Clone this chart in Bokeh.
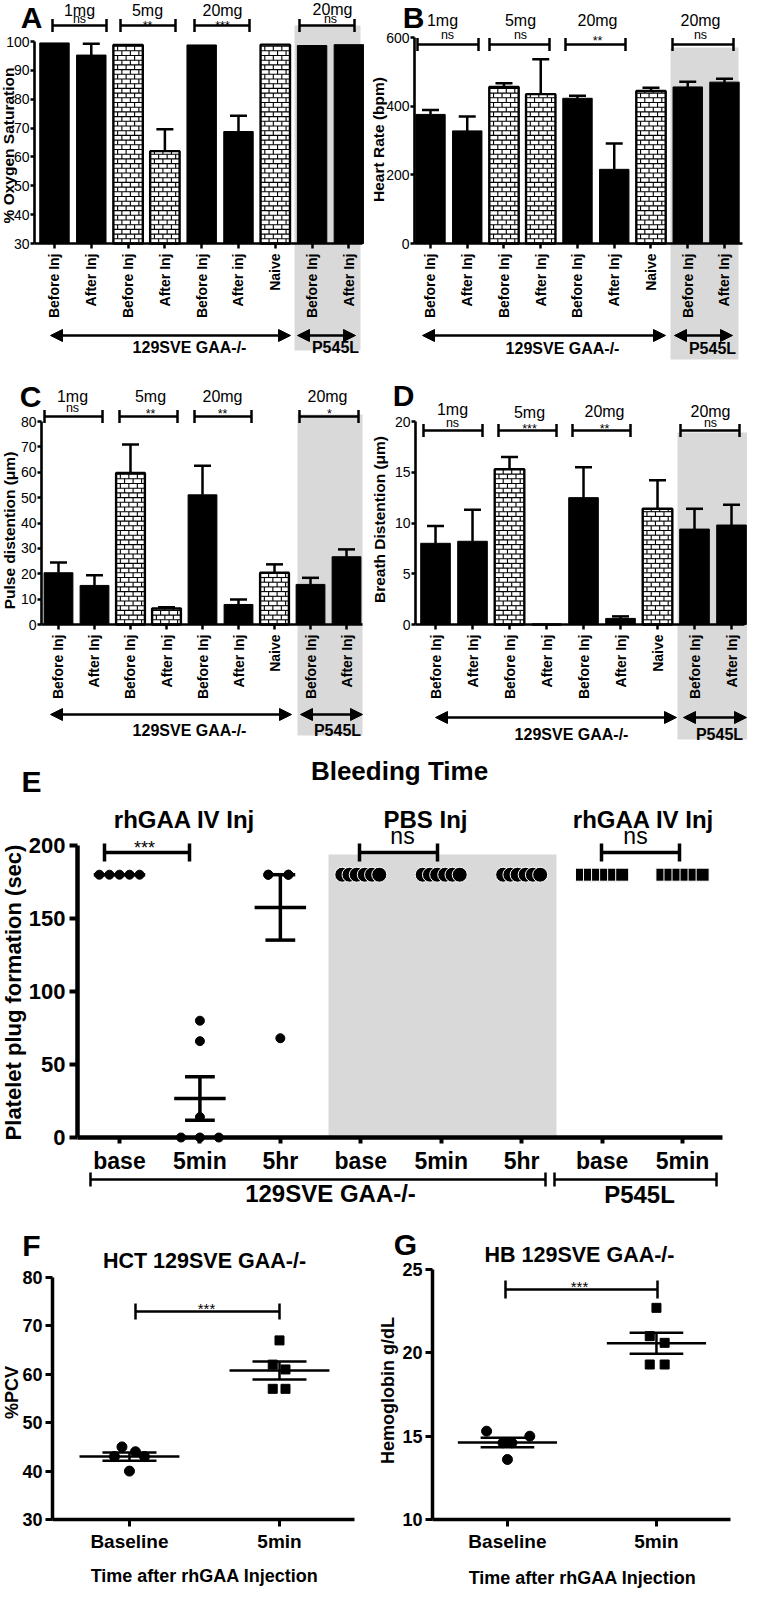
import math
import numpy as np
from bokeh.plotting import figure
from bokeh.models import (Range1d, FixedTicker, Label, Whisker, TeeHead, Arrow,
                          NormalHead, BoxAnnotation, ColumnDataSource)
from bokeh.layouts import column, row
from bokeh.embed import file_html
from bokeh.resources import INLINE

# ---------------- data ----------------
bar_labels_A = ["Before Inj", "After Inj", "Before Inj", "After Inj", "Before Inj",
                "After inj", "Naive", "Before Inj", "After Inj"]
bar_labels = ["Before Inj", "After Inj", "Before Inj", "After Inj", "Before Inj",
              "After Inj", "Naive", "Before Inj", "After Inj"]
bar_patterned = [False, False, True, True, False, False, True, False, False]
dose_labels = ["1mg", "5mg", "20mg", "20mg"]
group_labels = ["129SVE GAA-/-", "P545L"]

oxy_mean = [99.5, 95.3, 98.8, 62.0, 98.8, 68.8, 98.9, 98.6, 98.9]
oxy_sem = [0.0, 3.9, 0.0, 7.6, 0.0, 5.5, 0.0, 0.0, 0.0]
oxy_sig = ["ns", "**", "***", "ns"]
oxy_ticks = [30, 40, 50, 60, 70, 80, 90, 100]

hr_mean = [376, 328, 456, 435, 423, 216, 444, 456, 470]
hr_sem = [13, 42, 11, 102, 7, 75, 10, 15, 10]
hr_sig = ["ns", "ns", "**", "ns"]
hr_ticks = [0, 200, 400, 600]

pulse_mean = [20.4, 15.4, 59.7, 6.3, 51.1, 7.9, 20.4, 15.8, 26.7]
pulse_sem = [4.0, 4.0, 11.2, 0.5, 11.5, 2.0, 3.3, 2.6, 2.9]
pulse_sig = ["ns", "**", "**", "*"]
pulse_ticks = [0, 10, 20, 30, 40, 50, 60, 70, 80]

breath_mean = [8.0, 8.2, 15.3, 0.0, 12.5, 0.6, 11.4, 9.4, 9.8]
breath_sem = [1.7, 3.1, 1.2, 0.0, 3.0, 0.2, 2.8, 2.0, 2.0]
breath_sig = ["ns", "***", "**", "ns"]
breath_ticks = [0, 5, 10, 15, 20]

bt_labels = ["base", "5min", "5hr", "base", "5min", "5hr", "base", "5min"]
bt_values = [
    [180, 180, 180, 180, 180],
    [80, 66, 14, 0, 0, 0],
    [180, 180, 180, 180, 68],
    [180, 180, 180, 180, 180, 180],
    [180, 180, 180, 180, 180, 180],
    [180, 180, 180, 180, 180, 180],
    [180, 180, 180, 180, 180, 180],
    [180, 180, 180, 180, 180, 180],
]
bt_dx = [
    [-0.25, -0.125, 0.0, 0.125, 0.25],
    [0.0, 0.0, 0.0, -0.235, 0.0, 0.235],
    [-0.15, 0.1, -0.15, 0.1, 0.0],
    [-0.23, -0.14, -0.05, 0.05, 0.14, 0.23],
    [-0.23, -0.14, -0.05, 0.05, 0.14, 0.23],
    [-0.23, -0.14, -0.05, 0.05, 0.14, 0.23],
    [-0.25, -0.15, -0.05, 0.05, 0.15, 0.25],
    [-0.25, -0.15, -0.05, 0.05, 0.15, 0.25],
]
bt_ticks = [0, 50, 100, 150, 200]
bt_top_labels = ["rhGAA IV Inj", "PBS Inj", "rhGAA IV Inj"]
bt_sig = ["***", "ns", "ns"]

time_labels = ["Baseline", "5min"]
hct_base = [45, 44, 43, 43, 40]
hct_base_dx = [-0.05, 0.04, -0.1, 0.1, 0.0]
hct_5min = [67, 62, 61, 57, 57]
hct_5min_dx = [0.0, -0.045, 0.04, -0.045, 0.04]
hct_ticks = [30, 40, 50, 60, 70, 80]

hb_base = [15.3, 15.0, 14.6, 14.6, 13.6]
hb_base_dx = [-0.14, 0.15, -0.03, 0.03, 0.0]
hb_5min = [22.7, 21.0, 20.6, 19.3, 19.3]
hb_5min_dx = [0.0, -0.045, 0.055, -0.045, 0.055]
hb_ticks = [10, 15, 20, 25]

# ---------------- styling helpers ----------------
FONT = "Liberation Sans"
GREY = "#d9d9d9"
BW = 0.8


class Geo:
    """page-pixel geometry of one panel: figure box, axes box and axes data extents"""
    def __init__(self, fig, frame, xr, yr):
        self.gx0, self.gy0, self.gx1, self.gy1 = fig
        self.fx0, self.fy0, self.fx1, self.fy1 = frame
        self.xr, self.yr = xr, yr

    def X(self, px):
        return self.xr[0] + (px - self.fx0) / (self.fx1 - self.fx0) * (self.xr[1] - self.xr[0])

    def Y(self, py):
        return self.yr[0] + (self.fy1 - py) / (self.fy1 - self.fy0) * (self.yr[1] - self.yr[0])

    def ppx(self):
        return (self.fx1 - self.fx0) / (self.xr[1] - self.xr[0])

    def ppy(self):
        return (self.fy1 - self.fy0) / (self.yr[1] - self.yr[0])


def new_fig(g):
    # the plotting frame fills the whole figure; axes are pinned at data locations
    p = figure(width=g.gx1 - g.gx0, height=g.gy1 - g.gy0,
               x_range=Range1d(g.X(g.gx0), g.X(g.gx1)),
               y_range=Range1d(g.Y(g.gy1), g.Y(g.gy0)),
               output_backend="svg", toolbar_location=None, tools="",
               title_location=None, min_border=0,
               min_border_left=0, min_border_right=0,
               min_border_top=0, min_border_bottom=0)
    p.xgrid.visible = False
    p.ygrid.visible = False
    p.outline_line_color = None
    p.background_fill_color = "white"
    p.border_fill_color = "white"
    p.xaxis[0].fixed_location = g.yr[0]
    p.xaxis[0].bounds = tuple(g.xr)
    p.yaxis[0].fixed_location = g.xr[0]
    p.yaxis[0].bounds = tuple(g.yr)
    return p


def style_axis(ax, ticks, labels, size, bold, lw, tick_out, tick_w, standoff, orientation=None):
    ax.ticker = FixedTicker(ticks=ticks)
    if labels is not None:
        ax.major_label_overrides = {t: l for t, l in zip(ticks, labels)}
    ax.major_label_text_font = FONT
    ax.major_label_text_font_size = f"{size}px"
    ax.major_label_text_font_style = "bold" if bold else "normal"
    ax.major_label_text_color = "black"
    ax.axis_line_width = lw
    ax.axis_line_color = "black"
    ax.major_tick_line_width = tick_w
    ax.major_tick_line_color = "black"
    ax.major_tick_in = 0
    ax.major_tick_out = tick_out
    ax.minor_tick_line_color = None
    ax.major_label_standoff = standoff
    if orientation is not None:
        ax.major_label_orientation = orientation


def txt(p, g, s, px, py, size, bold=False, angle=0.0):
    p.add_layout(Label(x=g.X(px), y=g.Y(py), text=s, text_font=FONT,
                       text_font_size=f"{size}px",
                       text_font_style="bold" if bold else "normal",
                       text_color="black", text_align="center",
                       text_baseline="middle", angle=angle))


def sig_txt(p, g, s, px, py, size):
    # asterisks sit high in the em box: shift anchor so the glyphs centre on py
    off = 0.3 * size if "*" in s else 0.0
    txt(p, g, s, px, py + off, size)


def grey(p, g, px0, px1, pytop, pybot):
    p.add_layout(BoxAnnotation(left=g.X(px0), right=g.X(px1), top=g.Y(pytop),
                               bottom=g.Y(pybot), fill_color=GREY, fill_alpha=1.0,
                               line_color=None, level="underlay"))


def brackets(p, g, spans, py, cap, lw):
    src = ColumnDataSource(dict(base=[g.Y(py)] * len(spans),
                                lower=[g.X(a) for a, b in spans],
                                upper=[g.X(b) for a, b in spans]))
    p.add_layout(Whisker(source=src, base="base", lower="lower", upper="upper",
                         dimension="width", line_color="black", line_width=lw,
                         lower_head=TeeHead(size=cap, line_color="black", line_width=lw),
                         upper_head=TeeHead(size=cap, line_color="black", line_width=lw),
                         level="annotation"))


def arrow(p, g, px0, px1, py):
    p.add_layout(Arrow(x_start=g.X(px0), y_start=g.Y(py), x_end=g.X(px1), y_end=g.Y(py),
                       line_color="black", line_width=2.5,
                       start=NormalHead(size=12, fill_color="black", line_color="black"),
                       end=NormalHead(size=12, fill_color="black", line_color="black")))


def bricks(p, g, xs, tops, bottom, bw):
    rh = 4.7 / g.ppy()
    bwid = 8.5 / g.ppx()
    x0, y0, x1, y1 = [], [], [], []
    for x, t in zip(xs, tops):
        l, r = x - bw / 2, x + bw / 2
        y = bottom
        k = 0
        while y < t - 1e-9:
            yn = min(y + rh, t)
            x0.append(l); x1.append(r); y0.append(y); y1.append(y)
            xv = l + (bwid / 2 if k % 2 else bwid)
            while xv < r - 1e-9:
                x0.append(xv); x1.append(xv); y0.append(y); y1.append(yn)
                xv += bwid
            y = yn
            k += 1
    p.segment(x0=x0, y0=y0, x1=x1, y1=y1, line_color="black", line_width=1.1)


def bar_panel(g, labels, means, sems, yticks, sigs, spec):
    p = new_fig(g)
    grey(p, g, *spec["grey"])
    xs = list(range(1, len(means) + 1))
    y0 = g.yr[0]
    bx = [x for x, f in zip(xs, bar_patterned) if not f]
    bm = [m for m, f in zip(means, bar_patterned) if not f]
    hx = [x for x, f in zip(xs, bar_patterned) if f]
    hm = [m for m, f in zip(means, bar_patterned) if f]
    p.vbar(x=bx, top=bm, bottom=y0, width=BW, fill_color="black",
           line_color="black", line_width=1)
    p.vbar(x=hx, top=hm, bottom=y0, width=BW, fill_color="white", line_color=None)
    bricks(p, g, hx, hm, y0, BW)
    p.vbar(x=hx, top=hm, bottom=y0, width=BW, fill_color=None,
           line_color="black", line_width=2.4)
    ex = [x for x, s in zip(xs, sems) if s > 0]
    elo = [m for m, s in zip(means, sems) if s > 0]
    ehi = [m + s for m, s in zip(means, sems) if s > 0]
    src = ColumnDataSource(dict(x=ex, lo=elo, hi=ehi))
    p.add_layout(Whisker(source=src, base="x", lower="lo", upper="hi", dimension="height",
                         line_color="black", line_width=2.5, lower_head=None,
                         upper_head=TeeHead(size=17, line_color="black", line_width=2.5),
                         level="annotation"))
    style_axis(p.xaxis[0], xs, labels, 14, True, 2.6, 5, 2.5, 5, math.pi / 2)
    style_axis(p.yaxis[0], yticks, None, 14, False, 2.6, 4, 2.5, 1)

    brackets(p, g, spec["brackets"], spec["bracket_y"], 13, 2.5)
    for s, (px, py) in zip(dose_labels, spec["doses"]):
        txt(p, g, s, px, py, 16)
    for s, (px, py) in zip(sigs, spec["sigs"]):
        sig_txt(p, g, s, px, py, 12.5)
    for (a, b) in spec["arrows"]:
        arrow(p, g, a, b, spec["arrow_y"])
    for s, (px, py) in zip(group_labels, spec["groups"]):
        txt(p, g, s, px, py, 16, bold=True)
    letter, lx, ly = spec["letter"]
    txt(p, g, letter, lx, ly, 30, bold=True)
    title, tx, ty = spec["ytitle"]
    txt(p, g, title, tx, ty, 15.5, bold=True, angle=math.pi / 2)
    return p


# ---------------- panels A-D ----------------
gA = Geo((8, 8, 372, 372), (42, 49, 370, 251), (0.457, 9.37), (30, 100))
gB = Geo((372, 8, 755, 372), (422, 45, 750, 251), (0.565, 9.49), (0, 600))
gC = Geo((8, 372, 372, 752), (49, 429, 370, 632), (0.528, 9.444), (0, 80))
gD = Geo((372, 372, 755, 752), (423, 429, 752, 632), (0.459, 9.351), (0, 20))

specA = dict(letter=("A", 39, 25), ytitle=("% Oxygen Saturation", 16, 153),
             doses=[(87, 18), (155, 18), (230, 18), (340, 17)],
             sigs=[(87, 26.5), (155, 29.5), (230, 29.5), (338, 26.5)],
             brackets=[(60, 114), (128, 183), (202, 257), (307, 362)], bracket_y=33,
             arrows=[(58, 298), (305, 363)], arrow_y=343,
             groups=[(197, 355), (343, 355)], grey=(302, 368, 33, 358))
specB = dict(letter=("B", 421, 25), ytitle=("Heart Rate (bpm)", 386, 147),
             doses=[(450, 28), (528, 28), (605, 28), (708, 28)],
             sigs=[(455, 42), (528, 42), (605, 45), (708, 42)],
             brackets=[(425, 486), (497, 557), (573, 633), (680, 741)], bracket_y=52,
             arrows=[(430, 673), (682, 740)], arrow_y=343,
             groups=[(570, 356), (720, 356)], grey=(678, 746, 55, 367))
specC = dict(letter=("C", 38, 404), ytitle=("Pulse distention (\u03bcm)", 17, 538),
             doses=[(80, 404), (158, 404), (230, 404), (335, 404)],
             sigs=[(80, 415), (158, 418), (230, 418), (337, 418)],
             brackets=[(52, 110), (127, 185), (202, 259), (307, 366)], bracket_y=424,
             arrows=[(58, 299), (308, 370)], arrow_y=722,
             groups=[(197, 738), (345, 738)], grey=(305, 370, 422, 743))
specD = dict(letter=("D", 411, 403), ytitle=("Breath Distention (\u03bcm)", 387, 527),
             doses=[(460, 417), (537, 420), (612, 419), (718, 419)],
             sigs=[(460, 430), (537, 433), (612, 433), (718, 430)],
             brackets=[(431, 490), (506, 564), (580, 638), (688, 747)], bracket_y=438,
             arrows=[(443, 684), (691, 754)], arrow_y=725,
             groups=[(579, 742), (727, 742)], grey=(685, 755, 440, 747))

pA = bar_panel(gA, bar_labels_A, oxy_mean, oxy_sem, oxy_ticks, oxy_sig, specA)
pB = bar_panel(gB, bar_labels, hr_mean, hr_sem, hr_ticks, hr_sig, specB)
pC = bar_panel(gC, bar_labels, pulse_mean, pulse_sem, pulse_ticks, pulse_sig, specC)
pD = bar_panel(gD, bar_labels, breath_mean, breath_sem, breath_ticks, breath_sig, specD)

# ---------------- panel E ----------------
gE = Geo((8, 752, 755, 1222), (85, 853, 730, 1145), (0.478, 8.497), (0, 200))
pE = new_fig(gE)
grey(pE, gE, 336, 564, 862, 1145)
ex = list(range(1, len(bt_values) + 1))
e_mean = [float(np.mean(v)) for v in bt_values]
e_sem = [float(np.std(v, ddof=1) / np.sqrt(len(v))) for v in bt_values]
hw, cw = 0.32, 0.185
pE.segment(x0=[x - hw for x in ex], y0=e_mean, x1=[x + hw for x in ex], y1=e_mean,
           line_color="black", line_width=3.5)
sx = [x for x, s in zip(ex, e_sem) if s > 0]
slo = [m - s for m, s in zip(e_mean, e_sem) if s > 0]
shi = [m + s for m, s in zip(e_mean, e_sem) if s > 0]
pE.segment(x0=sx, y0=slo, x1=sx, y1=shi, line_color="black", line_width=3.5)
pE.segment(x0=[x - cw for x in sx] * 2, y0=slo + shi, x1=[x + cw for x in sx] * 2,
           y1=slo + shi, line_color="black", line_width=3.5)

marker_style = {  # group index -> (marker, size, outline)
    0: ("circle", 9, "black"), 1: ("circle", 9, "black"), 2: ("circle", 9, "black"),
    3: ("circle", 15, "white"), 4: ("circle", 15, "white"), 5: ("circle", 15, "white"),
    6: ("square", 13, "white"), 7: ("square", 13, "white"),
}
for i, (vals, dxs) in enumerate(zip(bt_values, bt_dx)):
    mk, sz, oc = marker_style[i]
    pE.scatter(x=[ex[i] + d for d in dxs], y=vals, marker=mk, size=sz,
               fill_color="black", line_color=oc, line_width=1)

style_axis(pE.xaxis[0], ex, bt_labels, 23, True, 4.5, 6, 4, 4)
style_axis(pE.yaxis[0], bt_ticks, None, 22, True, 4.5, 8, 4, 4)
brackets(pE, gE, [(112, 197), (367, 445), (609, 687)], 860, 18, 3.5)
brackets(pE, gE, [(98, 553), (562, 724)], 1187, 14, 2.5)
for s, px in zip(bt_top_labels, [192, 433, 651]):
    txt(pE, gE, s, px, 827, 24, bold=True)
for s, px, py, sz in zip(bt_sig, [152, 410, 643], [850, 843, 843], [18, 23, 23]):
    sig_txt(pE, gE, s, px, py, sz)
txt(pE, gE, "Bleeding Time", 407, 778, 26, bold=True)
txt(pE, gE, "E", 39, 789, 30, bold=True)
txt(pE, gE, "Platelet plug formation (sec)", 21, 1000, 22, bold=True, angle=math.pi / 2)
txt(pE, gE, group_labels[0], 338, 1201, 24, bold=True)
txt(pE, gE, group_labels[1], 647, 1202, 24, bold=True)


# ---------------- panels F, G ----------------
def dot_panel(g, base, base_dx, after, after_dx, yticks, spec):
    p = new_fig(g)
    groups = [base, after]
    dxs = [base_dx, after_dx]
    xs = [1, 2]
    m = [float(np.mean(v)) for v in groups]
    s = [float(np.std(v, ddof=1) / np.sqrt(len(v))) for v in groups]
    hw, cw = 0.333, 0.18
    p.segment(x0=[x - hw for x in xs], y0=m, x1=[x + hw for x in xs], y1=m,
              line_color="black", line_width=2.5)
    lo = [a - b for a, b in zip(m, s)]
    hi = [a + b for a, b in zip(m, s)]
    p.segment(x0=xs, y0=lo, x1=xs, y1=hi, line_color="black", line_width=2.5)
    p.segment(x0=[x - cw for x in xs] * 2, y0=lo + hi, x1=[x + cw for x in xs] * 2,
              y1=lo + hi, line_color="black", line_width=2.5)
    p.scatter(x=[1 + d for d in dxs[0]], y=groups[0], marker="circle", size=10,
              fill_color="black", line_color="black")
    p.scatter(x=[2 + d for d in dxs[1]], y=groups[1], marker="square", size=9,
              fill_color="black", line_color="black")
    style_axis(p.xaxis[0], xs, time_labels, 19, True, 3.5, 7, 3, 4)
    style_axis(p.yaxis[0], yticks, None, 18, True, 3.5, 7, 3, 3)
    a, b, by, cap = spec["bracket"]
    brackets(p, g, [(a, b)], by, cap, 2.5)
    sig_txt(p, g, "***", spec["star"][0], spec["star"][1], 15)
    letter, lx, ly = spec["letter"]
    txt(p, g, letter, lx, ly, 30, bold=True)
    t, tx, ty = spec["title"]
    txt(p, g, t, tx, ty, 21.5, bold=True)
    t, tx, ty = spec["ytitle"]
    txt(p, g, t, tx, ty, 18, bold=True, angle=math.pi / 2)
    tx, ty = spec["xtitle"]
    txt(p, g, "Time after rhGAA Injection", tx, ty, 18, bold=True)
    return p


gF = Geo((8, 1222, 380, 1602), (60, 1285, 362, 1527), (0.487, 2.5), (30, 80))
gG = Geo((380, 1222, 755, 1602), (440, 1277, 738, 1527), (0.497, 2.497), (10, 25))
pF = dot_panel(gF, hct_base, hct_base_dx, hct_5min, hct_5min_dx, hct_ticks,
               dict(bracket=(143, 287, 1319, 16), star=(214, 1311),
                    letter=("F", 39, 1253), title=("HCT 129SVE GAA-/-", 212, 1268),
                    ytitle=("%PCV", 19, 1400), xtitle=(212, 1583)))
pG = dot_panel(gG, hb_base, hb_base_dx, hb_5min, hb_5min_dx, hb_ticks,
               dict(bracket=(513, 665, 1297, 18), star=(587, 1289),
                    letter=("G", 413, 1252), title=("HB 129SVE GAA-/-", 587, 1262),
                    ytitle=("Hemoglobin g/dL", 395, 1398), xtitle=(590, 1585)))

layout = column(row(pA, pB), row(pC, pD), pE, row(pF, pG))
open("out.html", "w").write(file_html(layout, INLINE))
